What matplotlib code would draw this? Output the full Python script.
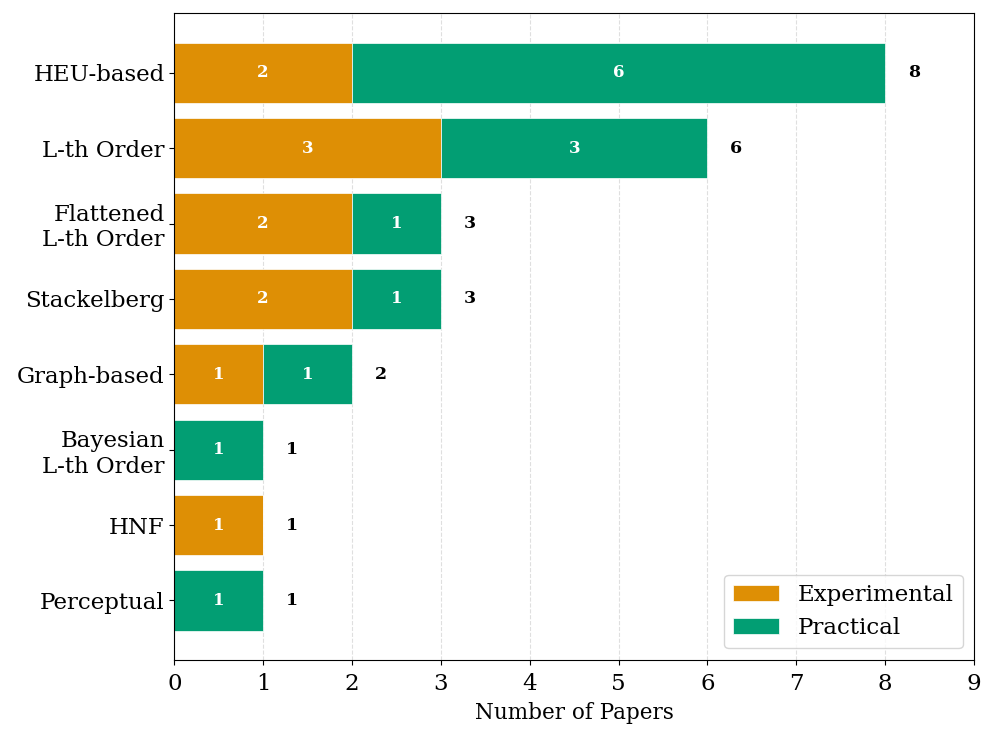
import numpy as np
import matplotlib.pyplot as plt

plt.rcParams["font.family"] = ["DejaVu Serif"]

# Data (top to bottom)
categories = ["HEU-based", "L-th Order", "Flattened\nL-th Order", "Stackelberg",
              "Graph-based", "Bayesian\nL-th Order", "HNF", "Perceptual"]
experimental = [2, 3, 2, 2, 1, 0, 1, 0]
practical = [6, 3, 1, 1, 1, 1, 0, 1]

exp_color = "#de8f05"
prac_color = "#029e73"

y = np.arange(len(categories))
exp_arr = np.array(experimental)
prac_arr = np.array(practical)
totals = exp_arr + prac_arr

fig, ax = plt.subplots(figsize=(9.96, 7.39), dpi=100)

ax.barh(y, exp_arr, height=0.8, color=exp_color, edgecolor="white",
        linewidth=0.5, label="Experimental")
ax.barh(y, prac_arr, left=exp_arr, height=0.8, color=prac_color,
        edgecolor="white", linewidth=0.5, label="Practical")

# Labels inside segments and totals
for i in range(len(categories)):
    if exp_arr[i] > 0:
        ax.text(exp_arr[i] / 2, y[i], str(exp_arr[i]), ha="center", va="center",
                color="white", fontweight="bold", fontsize=12)
    if prac_arr[i] > 0:
        ax.text(exp_arr[i] + prac_arr[i] / 2, y[i], str(prac_arr[i]), ha="center",
                va="center", color="white", fontweight="bold", fontsize=12)
    ax.text(totals[i] + 0.32, y[i], str(totals[i]), ha="center", va="center",
            color="black", fontweight="bold", fontsize=12.5)

ax.set_yticks(y)
ax.set_yticklabels(categories, fontsize=16.5)
ax.invert_yaxis()
ax.set_xlim(0, 9)
ax.set_xticks(range(0, 10))
ax.tick_params(axis="x", labelsize=16.5, pad=6)
ax.set_xlabel("Number of Papers", fontsize=15.5, labelpad=5)
ax.grid(axis="x", linestyle="--", alpha=0.4)
ax.set_axisbelow(True)
ax.legend(loc="lower right", fontsize=16.5)

plt.subplots_adjust(left=0.175, right=0.978, top=0.982, bottom=0.107)
plt.savefig("out.png", dpi=100)
